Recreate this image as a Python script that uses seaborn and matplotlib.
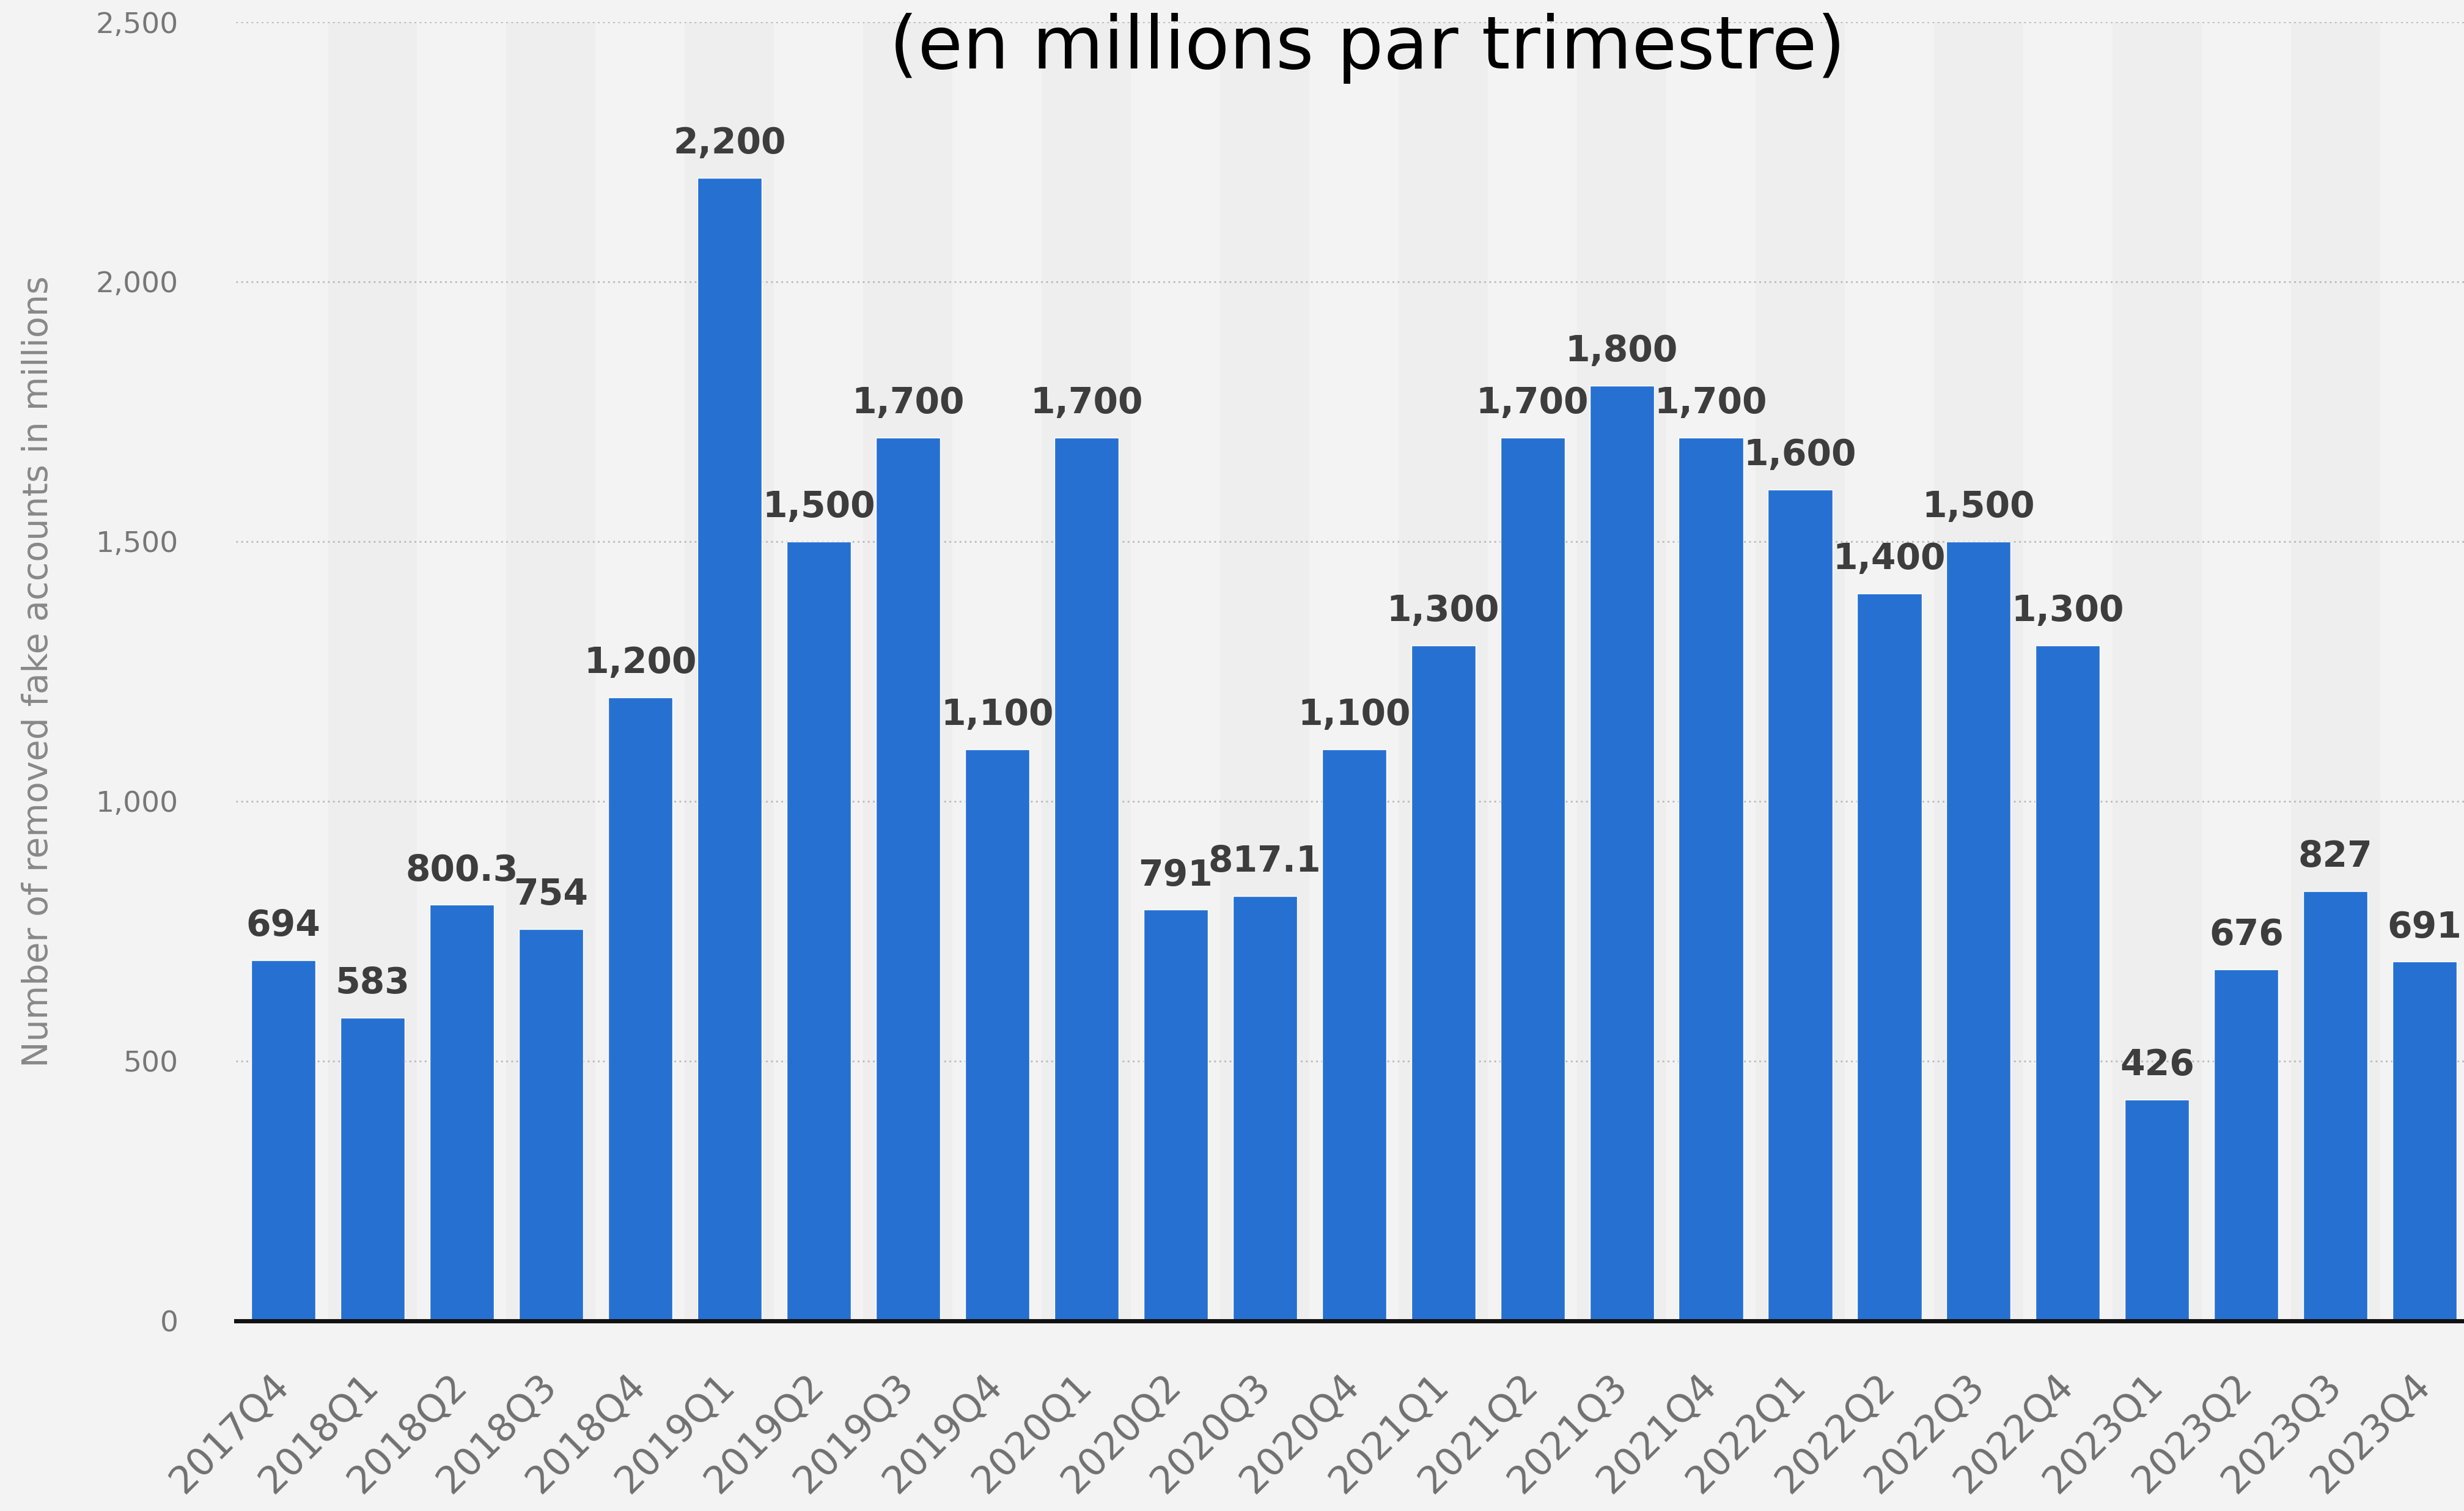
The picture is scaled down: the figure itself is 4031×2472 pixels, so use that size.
import matplotlib
matplotlib.use("Agg")
import matplotlib.pyplot as plt
import seaborn as sns
import pandas as pd

quarters = ["2017Q4", "2018Q1", "2018Q2", "2018Q3", "2018Q4",
            "2019Q1", "2019Q2", "2019Q3", "2019Q4",
            "2020Q1", "2020Q2", "2020Q3", "2020Q4",
            "2021Q1", "2021Q2", "2021Q3", "2021Q4",
            "2022Q1", "2022Q2", "2022Q3", "2022Q4",
            "2023Q1", "2023Q2", "2023Q3", "2023Q4"]
removed = [694, 583, 800.3, 754, 1200,
           2200, 1500, 1700, 1100,
           1700, 791, 817.1, 1100,
           1300, 1700, 1800, 1700,
           1600, 1400, 1500, 1300,
           426, 676, 827, 691]
yticks = [0, 500, 1000, 1500, 2000, 2500]

df = pd.DataFrame({"quarter": quarters, "removed": removed})

sns.set_theme(style="white")
plt.rcParams['font.family'] = ['DejaVu Sans']

bg = "#f3f3f3"
fig = plt.figure(figsize=(40.31, 24.72), dpi=100, facecolor=bg)
ax = fig.add_axes([0.0958, 0.126, 0.9042, 0.8594])
ax.set_facecolor(bg)

# alternating column shading
for i in range(len(quarters)):
    if i % 2 == 1:
        ax.axvspan(i - 0.5, i + 0.5, color="#eeeeee", zorder=0, lw=0)

sns.barplot(data=df, x="quarter", y="removed", color="#2670d2", width=0.72,
            saturation=1, ax=ax, zorder=3)

labels = [f"{v:,.0f}" if float(v).is_integer() else f"{v}" for v in removed]
ax.bar_label(ax.containers[0], labels=labels, padding=20, fontsize=42,
             fontweight="bold", color="#3d3d3d")

ax.set_ylim(0, 2500)
ax.set_xlim(-0.53, len(quarters) - 0.56)
ax.set_yticks(yticks)
ax.set_yticklabels([f"{t:,}" for t in yticks], fontsize=34, color="#777777")
ax.tick_params(axis="y", length=0, pad=68)
ax.tick_params(axis="x", length=0, pad=70)
plt.setp(ax.get_xticklabels(), rotation=45, ha="right", va="center",
         rotation_mode="anchor", fontsize=45, color="#707070")

ax.grid(axis="y", linestyle=(0, (1, 2)), color="#b8b8b8", linewidth=2, zorder=1)
ax.grid(axis="x", visible=False)
for s in ["top", "right", "left"]:
    ax.spines[s].set_visible(False)
ax.spines["bottom"].set_color("#111111")
ax.spines["bottom"].set_linewidth(5)
ax.spines["bottom"].set_zorder(5)

ax.set_xlabel("")
ax.set_ylabel("Number of removed fake accounts in millions", fontsize=41,
              color="#888888", labelpad=48)

fig.text(0.555, 0.968, "(en millions par trimestre)", ha="center", va="center",
         fontsize=86, color="black")

fig.savefig("out.png", dpi=100, facecolor=bg)
